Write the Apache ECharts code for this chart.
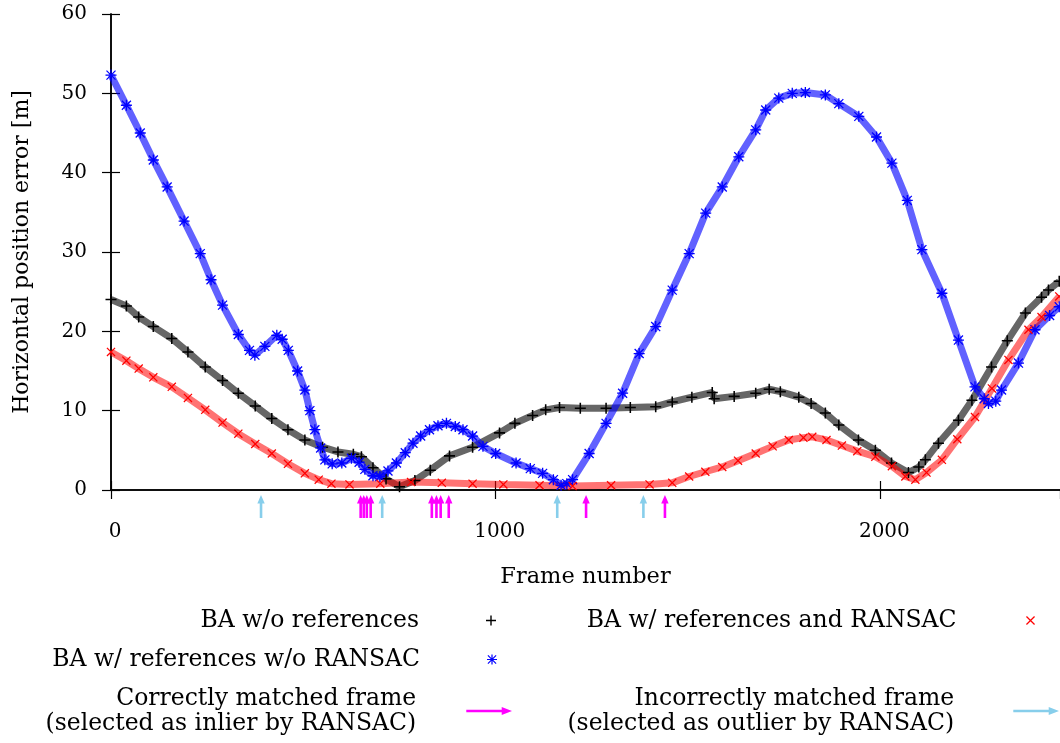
<!DOCTYPE html>
<html><head><meta charset="utf-8">
<script src="https://cdn.jsdelivr.net/npm/echarts@6/dist/echarts.min.js"></script>
<style>html,body{margin:0;padding:0;background:#fff}#c{width:1060px;height:743px}</style>
</head><body><div id="c"></div>
<script>
// ---- data ----
const blackFrames = [0,40,72,110,158,200,245,290,331,375,418,460,504,550,590,630,651,681,715,750,790,830,880,940,1010,1050,1096,1130,1166,1220,1287,1350,1416,1459,1510,1563,1568,1620,1676,1711,1740,1788,1820,1857,1892,1943,1987,2029,2073,2100,2117,2151,2203,2238,2289,2330,2377,2419,2437,2465];
const blackValues = [24.0,23.2,21.8,20.6,19.1,17.4,15.5,13.8,12.2,10.6,9.0,7.6,6.3,5.4,4.8,4.5,4.2,2.8,1.4,0.4,1.2,2.5,4.3,5.4,7.2,8.4,9.4,10.1,10.4,10.3,10.3,10.4,10.5,11.1,11.7,12.3,11.5,11.8,12.2,12.7,12.4,11.7,10.9,9.7,8.2,6.3,5.0,3.4,2.2,2.9,3.8,5.9,8.8,11.3,15.5,18.8,22.3,24.3,25.2,26.3];

const redFrames = [0,40,72,110,158,200,245,290,331,375,418,460,504,540,573,620,700,780,860,940,1020,1114,1200,1300,1400,1459,1503,1545,1589,1630,1676,1720,1762,1800,1823,1860,1900,1940,1987,2030,2065,2091,2120,2160,2200,2246,2290,2333,2385,2419,2465];
const redValues = [17.4,16.3,15.3,14.2,13.0,11.6,10.1,8.5,7.1,5.8,4.6,3.3,2.1,1.3,0.8,0.7,0.8,1.0,0.9,0.8,0.7,0.6,0.5,0.6,0.7,0.9,1.7,2.3,2.9,3.7,4.6,5.5,6.3,6.6,6.7,6.3,5.6,4.9,4.2,3.0,1.7,1.3,2.2,3.8,6.4,9.2,12.8,16.4,20.2,21.8,24.4];

const blueFrames = [0,40,76,110,146,190,232,260,290,331,360,374,400,431,445,461,485,504,517,530,545,556,575,600,625,645,660,681,699,720,742,765,785,805,828,850,872,895,915,940,967,1000,1053,1090,1122,1150,1170,1185,1200,1243,1287,1330,1373,1416,1459,1503,1546,1589,1632,1676,1702,1736,1771,1805,1857,1892,1944,1990,2030,2070,2108,2160,2203,2246,2270,2281,2300,2315,2359,2402,2440,2465];
const blueValues = [52.3,48.5,45.0,41.6,38.2,33.9,29.8,26.5,23.3,19.6,17.6,17.0,18.1,19.5,19.0,17.6,15.0,12.6,10.0,7.6,5.3,3.8,3.3,3.4,4.0,3.5,2.6,1.8,1.7,2.4,3.4,4.7,5.9,6.8,7.6,8.1,8.4,8.0,7.6,6.8,5.5,4.6,3.4,2.7,2.1,1.3,0.6,0.8,1.3,4.6,8.4,12.2,17.2,20.6,25.2,29.8,34.9,38.2,42.0,45.4,47.9,49.4,50.0,50.1,49.8,48.7,47.1,44.5,41.2,36.5,30.3,24.8,18.9,13.0,11.5,10.9,11.2,12.6,16.0,20.2,22.0,23.1];

const correctFrames = [649,657,665,675,834,846,857,878,1235,1440];
const incorrectFrames = [390,705,1160,1384];

const nameBlack = 'BA w/o references';
const nameRed = 'BA w/ references and RANSAC';
const nameBlue = 'BA w/ references w/o RANSAC';
const nameCorrect = 'Correctly matched frame\n(selected as inlier by RANSAC)';
const nameIncorrect = 'Incorrectly matched frame\n(selected as outlier by RANSAC)';
const xTitle = 'Frame number';
const yTitle = 'Horizontal position error [m]';

// ---- styling ----
const FONT = '"DejaVu Serif", serif';
const PLUS = 'path://M4.3 0H5.7V10H4.3Z M0 4.3H10V5.7H0Z';
const CROSS = 'path://M0 1L1 0L10 9L9 10Z M9 0L10 1L1 10L0 9Z';
const STAR = 'path://M4.4 0H5.6V10H4.4Z M0 4.4H10V5.6H0Z M0.5 1.3L1.3 0.5L9.5 8.7L8.7 9.5Z M8.7 0.5L9.5 1.3L1.3 9.5L0.5 8.7Z';
const ARROW = 'path://M0 3H31V0.5L40 4L31 7.5V5H0Z';
const C_BLACK = '#000000', C_RED = '#ff0000', C_BLUE = '#0000ff', C_MAG = '#ff00ff', C_SKY = '#87ceeb';

function pairs(f, v) { return f.map((x, i) => [x, v[i]]); }

function arrowItem(params, api) {
  const p = api.coord([api.value(0), 0]);
  const x = p[0], y = p[1];
  const c = api.visual('color');
  return { type: 'group', children: [
    { type: 'rect', shape: { x: x - 1.3, y: y + 12, width: 2.6, height: 16 }, style: { fill: c } },
    { type: 'polygon', shape: { points: [[x - 3.7, y + 13.5], [x, y + 5], [x + 3.7, y + 13.5]] }, style: { fill: c } }
  ]};
}

function lineSeries(name, data, color, symbol, size, op) {
  return { type: 'line', name, data, symbol, symbolSize: size, showSymbol: true, showAllSymbol: true,
    itemStyle: { color }, lineStyle: { color, width: 7, opacity: op }, emphasis: { disabled: true },
    z: 3 };
}

function legendAt(name, icon, color, right, top, w, h) {
  return { data: [{ name, icon, itemStyle: { color, borderWidth: 0 } }], right, top, align: 'right',
    orient: 'horizontal', itemWidth: w, itemHeight: h, padding: 0, selectedMode: false,
    textStyle: { fontFamily: FONT, fontSize: 23.5, color: '#000', lineHeight: 25 } };
}

const axisLineStyle = { lineStyle: { color: '#000', width: 1.5 } };
const chart = echarts.init(document.getElementById('c'), null, { renderer: 'canvas' });
chart.setOption({
  animation: false,
  backgroundColor: '#fff',
  grid: { left: 111, top: 14, width: 951, height: 476 },
  xAxis: [
    { type: 'value', min: 0, max: 2467, interval: 1000, position: 'bottom',
      name: xTitle, nameLocation: 'middle', nameGap: 76,
      nameTextStyle: { fontFamily: FONT, fontSize: 22.5, color: '#000' },
      axisLine: axisLineStyle, axisTick: { inside: true, length: 9, lineStyle: { color: '#000', width: 1.2 } },
      axisLabel: { fontFamily: FONT, fontSize: 20, color: '#000', margin: 32, showMaxLabel: false,
        padding: [0, 0, 0, 8], formatter: v => String(v) },
      splitLine: { show: false } },
    { type: 'value', min: 0, max: 2467, interval: 1000, position: 'top',
      axisLine: axisLineStyle, axisTick: { inside: true, length: 9, lineStyle: { color: '#000', width: 1.2 } },
      axisLabel: { show: false }, splitLine: { show: false } }
  ],
  yAxis: [
    { type: 'value', min: 0, max: 60, interval: 10, position: 'left',
      name: yTitle, nameLocation: 'middle', nameGap: 78, nameRotate: 90,
      nameTextStyle: { fontFamily: FONT, fontSize: 22, color: '#000' },
      axisLine: { show: true, lineStyle: { color: '#000', width: 1.5 } },
      axisTick: { show: true, inside: true, length: 9, lineStyle: { color: '#000', width: 1.2 } },
      axisLabel: { fontFamily: FONT, fontSize: 20, color: '#000', margin: 24 },
      splitLine: { show: false } },
    { type: 'value', min: 0, max: 60, interval: 10, position: 'right',
      axisLine: { show: true, lineStyle: { color: '#000', width: 1.5 } },
      axisTick: { show: true, inside: true, length: 9, lineStyle: { color: '#000', width: 1.2 } },
      axisLabel: { show: false }, splitLine: { show: false } }
  ],
  legend: [
    legendAt(nameBlack, PLUS, C_BLACK, 564, 608, 134, 10),
    legendAt(nameRed, CROSS, C_RED, 25, 608, 138, 9),
    legendAt(nameBlue, STAR, C_BLUE, 563, 647, 134, 10),
    legendAt(nameCorrect, ARROW, C_MAG, 548, 686, 136, 8),
    legendAt(nameIncorrect, ARROW, C_SKY, 1, 686, 154, 8)
  ],
  series: [
    lineSeries(nameBlack, pairs(blackFrames, blackValues), C_BLACK, PLUS, 11, 0.6),
    lineSeries(nameBlue, pairs(blueFrames, blueValues), C_BLUE, STAR, 11, 0.62),
    lineSeries(nameRed, pairs(redFrames, redValues), C_RED, CROSS, 9, 0.55),
    { type: 'custom', name: nameCorrect, renderItem: arrowItem, clip: false,
      itemStyle: { color: C_MAG }, encode: { x: 0, y: 1 },
      data: correctFrames.map(f => [f, 0]), z: 4 },
    { type: 'custom', name: nameIncorrect, renderItem: arrowItem, clip: false,
      itemStyle: { color: C_SKY }, encode: { x: 0, y: 1 },
      data: incorrectFrames.map(f => [f, 0]), z: 4 }
  ]
});
</script></body></html>
